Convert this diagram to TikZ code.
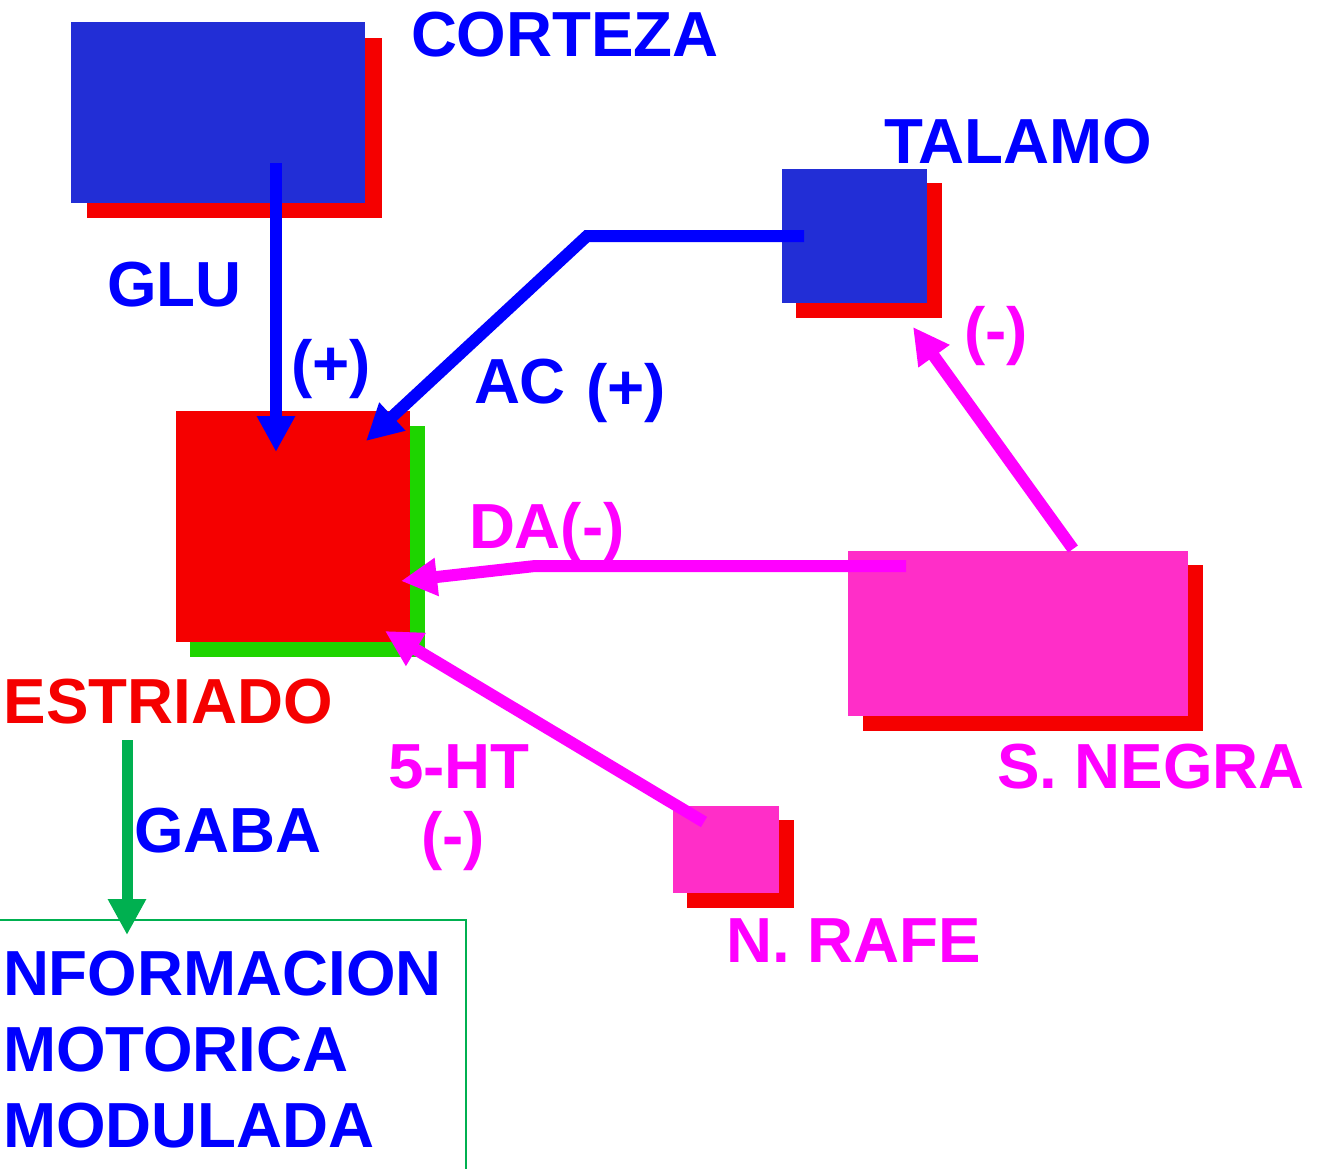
\documentclass[tikz,border=0pt]{standalone}
\usepackage{fontspec}
\setmainfont{Liberation Sans}
\usetikzlibrary{arrows.meta}
\definecolor{boxblue}{HTML}{222ED6}
\definecolor{boxred}{HTML}{F50000}
\definecolor{boxgreen}{HTML}{1ED400}
\definecolor{boxpink}{HTML}{FF2EC8}
\definecolor{txtblue}{HTML}{0000FF}
\definecolor{txtmag}{HTML}{FF00FF}
\definecolor{gabagreen}{HTML}{00B050}
\tikzset{
  blk/.style={draw=none, inner sep=0pt, outer sep=0pt, anchor=north west},
  lbl/.style={inner sep=0pt, outer sep=0pt, anchor=base west,
    font=\fontsize{63.7}{76}\selectfont\bfseries},
  conn/.style={line width=12pt, -{Triangle[length=36pt,width=36pt]}},
}
\begin{document}
\begin{tikzpicture}[x=1pt,y=-1pt]
\useasboundingbox (0,0) rectangle (1317,1168);

% output frame
\node[blk, draw=gabagreen, line width=1.5pt, minimum width=468pt, minimum height=260pt] (salida) at (-2,920) {};

% structures: shadow first, then the block
\node[blk, fill=boxred, minimum width=295pt, minimum height=180pt] (cortezaS) at (87,38) {};
\node[blk, fill=boxblue, minimum width=294pt, minimum height=181pt] (corteza) at (71,22) {};

\node[blk, fill=boxred, minimum width=146pt, minimum height=135pt] (talamoS) at (796,183) {};
\node[blk, fill=boxblue, minimum width=145pt, minimum height=134pt] (talamo) at (782,169) {};

\node[blk, fill=boxgreen, minimum width=235pt, minimum height=231pt] (estriadoS) at (190,426) {};
\node[blk, fill=boxred, minimum width=234pt, minimum height=231pt] (estriado) at (176,411) {};

\node[blk, fill=boxred, minimum width=340pt, minimum height=166pt] (negraS) at (863,565) {};
\node[blk, fill=boxpink, minimum width=340pt, minimum height=165pt] (negra) at (848,551) {};

\node[blk, fill=boxred, minimum width=107pt, minimum height=88pt] (rafeS) at (687,820) {};
\node[blk, fill=boxpink, minimum width=106pt, minimum height=87pt] (rafe) at (673,806) {};

% connector end points
\coordinate (gluA) at (276,163);
\coordinate (gluB) at (276,452);
\coordinate (acA) at (804,236);
\coordinate (acK) at (587,236);
\coordinate (acB) at (366,441);
\coordinate (daA) at (906,566);
\coordinate (daK) at (535,566);
\coordinate (daB) at (401,581);
\coordinate (sntA) at (1073,549);
\coordinate (sntB) at (913,327);
\coordinate (htA) at (704,822);
\coordinate (htB) at (385,631);
\coordinate (gabaA) at (127,740);
\coordinate (gabaB) at (127,935);

% connectors
\draw[conn, txtblue] (gluA) -- (gluB);
\draw[conn, txtblue, line join=miter] (acA) -- (acK) -- (acB);
\draw[conn, txtmag, line join=miter] (daA) -- (daK) -- (daB);
\draw[conn, txtmag] (sntA) -- (sntB);
\draw[conn, txtmag] (htA) -- (htB);
\draw[conn, gabagreen, line width=11pt] (gabaA) -- (gabaB);

% labels
\node[lbl, txtblue] (tCorteza) at (411,56) {CORTEZA};
\node[lbl, txtblue] (tTalamo) at (884,163) {TALAMO};
\node[lbl, txtblue] (tGlu) at (107,306) {GLU};
\node[lbl, txtblue] (tGluS) at (291,385) {(+)};
\node[lbl, txtblue] (tAc) at (474,403) {AC};
\node[lbl, txtblue] (tAcS) at (586,409) {(+)};
\node[lbl, txtmag] (tTalS) at (964,352) {(-)};
\node[lbl, txtmag] (tDa) at (469,548) {DA(-)};
\node[lbl, boxred] (tEstriado) at (4,723) {ESTRIADO};
\node[lbl, txtmag] (tHt) at (388,788) {5-HT};
\node[lbl, txtmag] (tHtS) at (421,857) {(-)};
\node[lbl, txtblue] (tGaba) at (134,852) {GABA};
\node[lbl, txtmag] (tNegra) at (997,788) {S. NEGRA};
\node[lbl, txtmag] (tRafe) at (726,962) {N. RAFE};
\node[lbl, txtblue] (tInfo1) at (3,995) {NFORMACION};
\node[lbl, txtblue] (tInfo2) at (3,1071) {MOTORICA};
\node[lbl, txtblue] (tInfo3) at (3,1147) {MODULADA};
\end{tikzpicture}
\end{document}
